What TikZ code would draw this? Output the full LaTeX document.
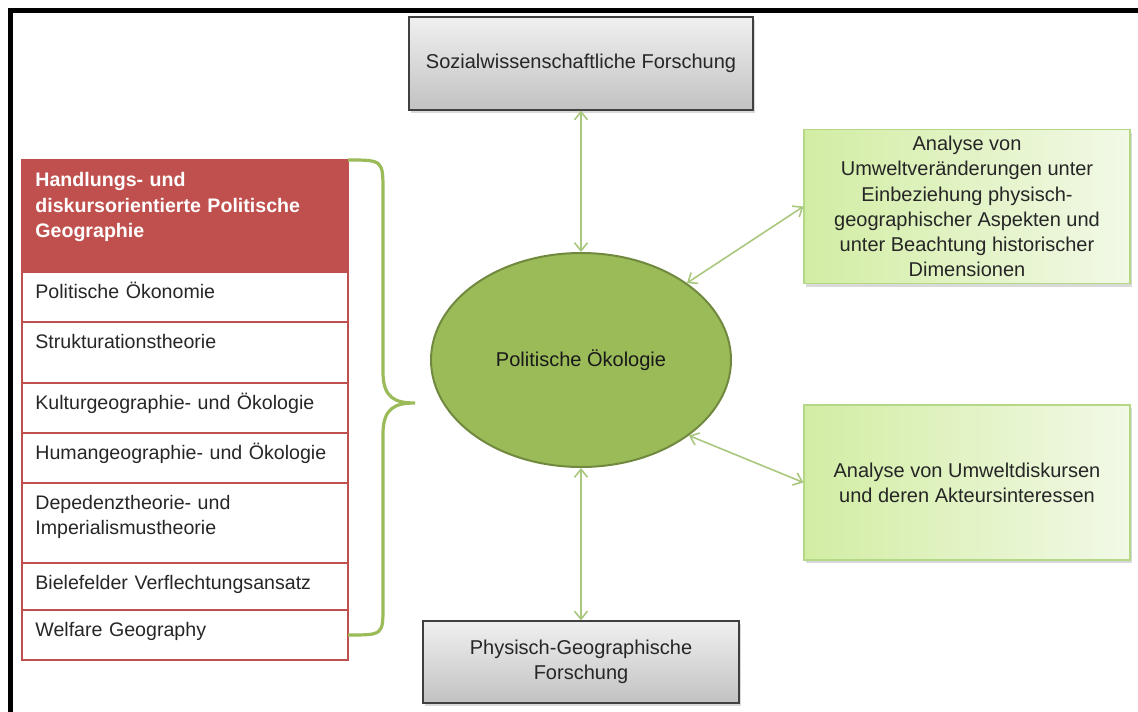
\documentclass[tikz,border=0pt]{standalone}
\usepackage{fontspec}
\setmainfont{Liberation Sans}
\usetikzlibrary{shapes.geometric,arrows.meta,shadows}
\definecolor{listred}{HTML}{C0504D}
\definecolor{olive}{HTML}{9BBB59}
\definecolor{olivedark}{HTML}{71893F}
\definecolor{arrowgreen}{HTML}{A9C77E}
\definecolor{boxgreen}{HTML}{D2EDA3}
\definecolor{boxgreenlight}{HTML}{F2F9E7}
\definecolor{boxgreenline}{HTML}{B4D886}
\definecolor{grayhi}{HTML}{F0F0F0}
\definecolor{graylo}{HTML}{C2C2C2}
\definecolor{textgray}{HTML}{262626}

\begin{document}
\begin{tikzpicture}[x=0.5pt,y=-0.5pt,>={Straight Barb[length=4pt,width=6.5pt]},line join=miter,
  every node/.style={font=\fontsize{10}{12.6}\selectfont,text=textgray},
  graybox/.style={draw=black!75,line width=0.6pt,top color=grayhi,bottom color=graylo,align=center,
    drop shadow={shadow xshift=1.2pt,shadow yshift=-1.6pt,opacity=0.3}},
  greenbox/.style={draw=boxgreenline,line width=0.6pt,left color=boxgreen,right color=boxgreenlight,
    minimum width=163pt,align=center,drop shadow={shadow xshift=1.2pt,shadow yshift=-1.6pt,opacity=0.3}},
  cell/.style={draw=listred,line width=0.6pt,anchor=north west,minimum width=163pt,inner sep=0pt,outer sep=0pt},
  celltext/.style={anchor=north west,text width=150pt,align=left,inner xsep=6.5pt,inner ysep=4.5pt,text height=8.75pt,
    font=\fontsize{9.8}{12.5}\selectfont},
  link/.style={<->,draw=arrowgreen,line width=0.8pt},
  bracket/.style={draw=olive,line width=1.6pt}]
  \useasboundingbox (0,0) rectangle (1138,711);
  % frame
  \draw[line width=2.5pt] (10.5,730) -- (10.5,10.5) -- (1160,10.5);
%%
  % Node: sozial
  \node[graybox,minimum width=172pt,minimum height=46.5pt] (sozial) at (581,63.5) {Sozialwissenschaftliche Forschung};
  % Node: oekologie
  \node[ellipse,draw=olivedark,line width=1pt,fill=olive,minimum width=150pt,minimum height=107pt,inner sep=0pt,text=black!90] (oekologie) at (581,360) {Politische Ökologie};
  % Node: physisch
  \node[graybox,minimum width=158pt,minimum height=41pt] (physisch) at (581,662) {Physisch-Geographische\\Forschung};
  % Node: umwelt
  \node[greenbox,minimum height=76.5pt] (umwelt) at (967,206.5) {Analyse von\\Umweltveränderungen unter\\Einbeziehung physisch-\\geographischer Aspekten und\\unter Beachtung historischer\\Dimensionen};
  % Node: diskurs
  \node[greenbox,minimum height=77.5pt] (diskurs) at (967,482.5) {Analyse von Umweltdiskursen\\und deren Akteursinteressen};
%%
  % list of approaches
  \node[cell,fill=listred,minimum height=56pt] (header) at (22,160) {};
  \node[celltext,text=white,font=\fontsize{9.8}{12.75}\selectfont\bfseries] (header-t) at (header.north west) {Handlungs- und\\diskursorientierte Politische\\Geographie};
  \node[cell,minimum height=25pt] (oekonomie) at (header.south west) {};
  \node[celltext] (oekonomie-t) at (oekonomie.north west) {Politische Ökonomie};
  \node[cell,minimum height=30.5pt] (struktur) at (oekonomie.south west) {};
  \node[celltext] (struktur-t) at (struktur.north west) {Strukturationstheorie};
  \node[cell,minimum height=25pt] (kultur) at (struktur.south west) {};
  \node[celltext] (kultur-t) at (kultur.north west) {Kulturgeographie- und Ökologie};
  \node[cell,minimum height=25pt] (human) at (kultur.south west) {};
  \node[celltext] (human-t) at (human.north west) {Humangeographie- und Ökologie};
  \node[cell,minimum height=40pt] (dependenz) at (human.south west) {};
  \node[celltext] (dependenz-t) at (dependenz.north west) {Depedenztheorie- und\\Imperialismustheorie};
  \node[cell,minimum height=23.5pt] (bielefeld) at (dependenz.south west) {};
  \node[celltext] (bielefeld-t) at (bielefeld.north west) {Bielefelder Verflechtungsansatz};
  \node[cell,minimum height=25pt] (welfare) at (bielefeld.south west) {};
  \node[celltext] (welfare-t) at (welfare.north west) {Welfare Geography};
%%
  % Edge: header -> welfare (brace)
  \draw[bracket] (header.north east) .. controls (383,160) .. (383,192) -- (383,372)
    .. controls (383,398) and (395,403) .. (415,403) .. controls (395,403) and (383,408) .. (383,434)
    -- (383,606) .. controls (383,635) .. (welfare.east);
  % Edge: sozial -> oekologie
  \draw[link] (sozial.south) -- (oekologie.north);
  % Edge: oekologie -> umwelt
  \draw[link] (oekologie.36.6) -- (umwelt.west);
  % Edge: oekologie -> diskurs
  \draw[link] (oekologie.-35.5) -- (diskurs.west);
  % Edge: oekologie -> physisch
  \draw[link] (oekologie.south) -- (physisch.north);
%
\end{tikzpicture}
\end{document}
